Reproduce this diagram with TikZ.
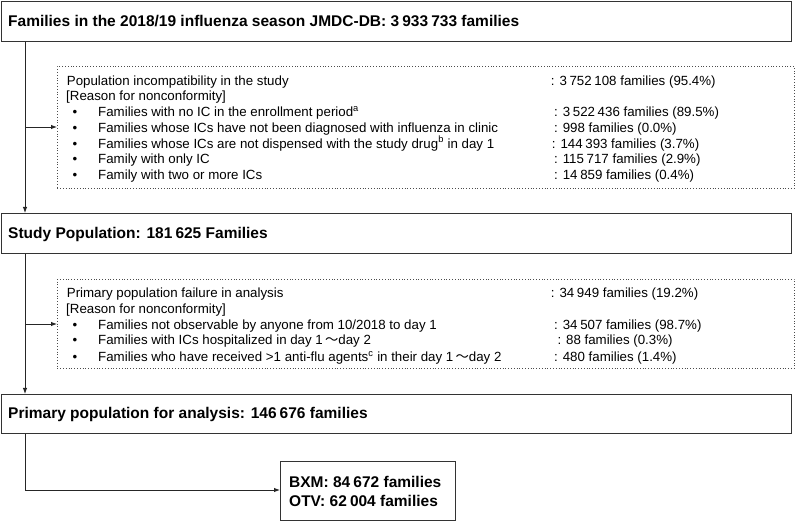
\documentclass[tikz,border=0pt]{standalone}
\usepackage{fontspec}
\setmainfont{Liberation Sans}
\newfontfamily\cjk{Noto Sans CJK JP}
\usetikzlibrary{arrows.meta}
\tikzset{
 box/.style={draw=black!80, line width=0.9pt, anchor=north west, inner sep=0},
 dbox/.style={draw=black!70, dotted, line width=0.8pt, anchor=north west, inner sep=0},
 ttl/.style={anchor=base west, inner sep=0, font=\fontsize{15.5}{18}\selectfont\bfseries},
 txt/.style={anchor=base west, inner sep=0, font=\fontsize{13.3}{16}\selectfont},
 bul/.style={anchor=base, inner sep=0, font=\fontsize{13.3}{16}\selectfont},
 arr/.style={draw=black!85, line width=0.9pt, -{Latex[length=6pt,width=4.5pt]}},
 ln/.style={draw=black!85, line width=0.9pt},
}
\begin{document}
\begin{tikzpicture}[x=1pt,y=-1pt]
\useasboundingbox (0,0) rectangle (796,521);
% boxes
\node[box, minimum width=790pt, minimum height=40pt] (top) at (0.5,1) {};
\node[dbox, minimum width=737pt, minimum height=122pt] (ex1) at (57,66) {};
\node[box, minimum width=790pt, minimum height=40pt] (study) at (0.5,213) {};
\node[dbox, minimum width=737pt, minimum height=89pt] (ex2) at (57,279) {};
\node[box, minimum width=790pt, minimum height=39pt] (prim) at (0.5,394) {};
\node[box, minimum width=175pt, minimum height=59pt] (arms) at (280,461) {};
% titles
\node[ttl] (toptxt) at (8,26.6) {Families in the 2018/19 influenza season JMDC-DB: 3\kern0.2em933\kern0.2em733 families};
\node[ttl] (studytxt) at (8,238.6) {Study Population: 181\kern0.2em625 Families};
\node[ttl] (primtxt) at (8,419) {Primary population for analysis: 146\kern0.2em676 families};
\node[ttl] (bxm) at (289,487.3) {BXM: 84\kern0.2em672 families};
\node[ttl] (otv) at (289,506.3) {OTV: 62\kern0.2em004 families};
% exclusion box 1
\node[txt] (p1) at (66.7,85.8) {Population incompatibility in the study};
\node[txt] (p1n) at (550.7,85.8) {: 3\kern0.2em752\kern0.2em108 families (95.4\%)};
\node[txt] (r1) at (66,100.8) {[Reason for nonconformity]};
\node[bul] (d11) at (75,116.5) {•};
\node[txt] (a1) at (98,116.5) {Families with no IC in the enrollment period\textsuperscript{a}};
\node[txt] (a1n) at (554,116.5) {: 3\kern0.2em522\kern0.2em436 families (89.5\%)};
\node[bul] (d12) at (75,132.1) {•};
\node[txt] (a2) at (98,132.1) {Families whose ICs have not been diagnosed with influenza in clinic};
\node[txt] (a2n) at (554,132.1) {: 998 families (0.0\%)};
\node[bul] (d13) at (75,148.1) {•};
\node[txt] (a3) at (98,148.1) {Families whose ICs are not dispensed with the study drug\textsuperscript{b} in day 1};
\node[txt] (a3n) at (551.7,148.1) {: 144\kern0.2em393 families (3.7\%)};
\node[bul] (d14) at (75,163.8) {•};
\node[txt] (a4) at (98,163.8) {Family with only IC};
\node[txt] (a4n) at (554,163.8) {: 115\kern0.2em717 families (2.9\%)};
\node[bul] (d15) at (75,179.8) {•};
\node[txt] (a5) at (98,179.8) {Family with two or more ICs};
\node[txt] (a5n) at (554,179.8) {: 14\kern0.2em859 families (0.4\%)};
% exclusion box 2
\node[txt] (q1) at (66.7,297.8) {Primary population failure in analysis};
\node[txt] (q1n) at (550.7,297.8) {: 34\kern0.2em949 families (19.2\%)};
\node[txt] (r2) at (66,313.8) {[Reason for nonconformity]};
\node[bul] (d21) at (75,329.1) {•};
\node[txt] (b1) at (98,329.1) {Families not observable by anyone from 10/2018 to day 1};
\node[txt] (b1n) at (554,329.1) {: 34\kern0.2em507 families (98.7\%)};
\node[bul] (d22) at (75,344.8) {•};
\node[txt] (b2) at (98,344.8) {Families with ICs hospitalized in day 1\,{\cjk 〜}day 2};
\node[txt] (b2n) at (557.3,344.8) {: 88 families (0.3\%)};
\node[bul] (d23) at (75,361.5) {•};
\node[txt] (b3) at (98,361.5) {Families who have received >1 anti-flu agents\textsuperscript{c} in their day 1\,{\cjk 〜}day 2};
\node[txt] (b3n) at (554,361.5) {: 480 families (1.4\%)};
% connectors
\coordinate (j1) at (25,127);
\coordinate (j2) at (25,324);
\coordinate (j3) at (25,490);
\draw[arr] (top.south -| j1) -- (study.north -| j1);
\draw[arr] (j1) -- (ex1.west |- j1);
\draw[arr] (study.south -| j2) -- (prim.north -| j2);
\draw[arr] (j2) -- (ex2.west |- j2);
\draw[arr] (prim.south -| j3) -- (j3) -- (arms.west |- j3);
\end{tikzpicture}
\end{document}
